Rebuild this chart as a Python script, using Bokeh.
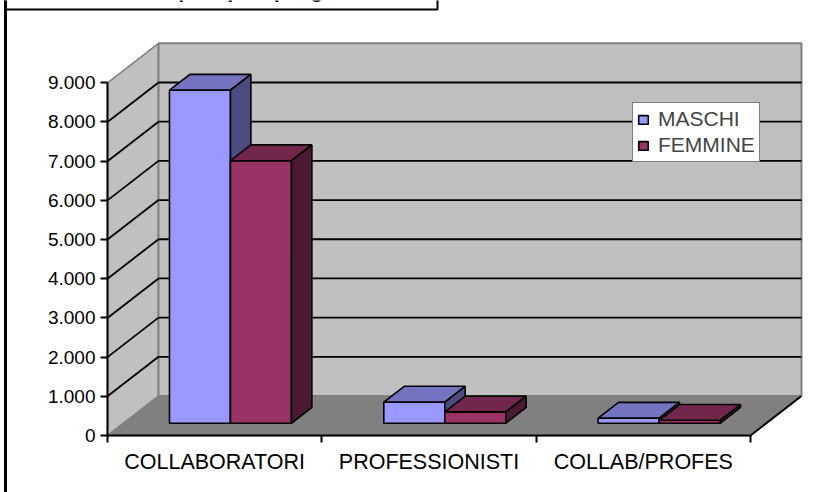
from bokeh.plotting import figure
from bokeh.models import Range1d, LinearAxis, FixedTicker, Legend, LegendItem
from bokeh.core.properties import value
from bokeh.embed import file_html
from bokeh.resources import INLINE

# ---------------- data ----------------
CATEGORIES = ["COLLABORATORI", "PROFESSIONISTI", "COLLAB/PROFES"]
SERIES = ["MASCHI", "FEMMINE"]
MASCHI = [8500, 540, 130]
FEMMINE = [6700, 290, 75]
Y_TICKS = [0, 1000, 2000, 3000, 4000, 5000, 6000, 7000, 8000, 9000]
Y_TICK_LABELS = ["0", "1.000", "2.000", "3.000", "4.000", "5.000",
                 "6.000", "7.000", "8.000", "9.000"]
TITLE = "Collaboratori per tipo e per genere"

# ---------------- style ----------------
W, H = 813, 492
FONT = "Liberation Sans"
WALL = "#C0C0C0"
FLOOR = "#808080"
EDGE = "#808080"
FACE = {"MASCHI": ("#9999FF", "#7373BF", "#4C4C80"),
        "FEMMINE": ("#993366", "#73264C", "#4C1933")}

# pixel geometry of the projection
PX_X0 = 107.0          # pixel of category-axis origin
PX_PER_CAT = 214.33    # pixels per category
PX_Y0 = 435.0          # pixel of value 0
PX_PER_UNIT = 352.7 / 9000.0

N = len(CATEGORIES)
YMAX = Y_TICKS[-1]
DX = 51.0 / PX_PER_CAT        # depth offset in category units
DY = 39.5 / PX_PER_UNIT       # depth offset in value units
Z0 = 0.31                     # depth fraction of bar front face
ZD = 0.40                     # depth fraction of bar thickness
BW = 0.2846                   # bar width (category units)
GAP = (1 - 2 * BW) / 2


def xd(px):
    return (px - PX_X0) / PX_PER_CAT


def yd(py):
    return (PX_Y0 - py) / PX_PER_UNIT


p = figure(width=W, height=H, min_border=0,
           x_range=Range1d(xd(0), xd(W)), y_range=Range1d(yd(H), yd(0)),
           x_axis_type=None, y_axis_type=None,
           toolbar_location=None, output_backend="svg",
           outline_line_color=None, background_fill_color="white",
           border_fill_color="white")
p.styles = {"position": "absolute", "left": "0px", "top": "0px"}

# ---------------- walls & floor ----------------
p.patch([0, DX, DX, 0], [0, DY, YMAX + DY, YMAX],
        fill_color=WALL, line_color=EDGE, line_width=1.5)
p.quad(left=[DX], right=[N + DX], bottom=[DY], top=[YMAX + DY],
       fill_color=WALL, line_color=EDGE, line_width=2)
p.patch([0, N, N + DX, DX], [0, 0, DY, DY],
        fill_color=FLOOR, line_color=EDGE, line_width=1.5)

grid_vals = Y_TICKS[1:-1]
p.segment(x0=[DX] * len(grid_vals), x1=[N + DX] * len(grid_vals),
          y0=[v + DY for v in grid_vals], y1=[v + DY for v in grid_vals],
          line_color="black", line_width=1.8)
p.segment(x0=[0] * len(grid_vals), x1=[DX] * len(grid_vals),
          y0=grid_vals, y1=[v + DY for v in grid_vals],
          line_color="black", line_width=1.8)
p.segment(x0=[N], y0=[0], x1=[N + DX], y1=[DY], line_color="black", line_width=2)

# ---------------- bars ----------------
front_renderers = []
for s, (name, vals) in enumerate(zip(SERIES, [MASCHI, FEMMINE])):
    c_front, c_top, c_side = FACE[name]
    base = Z0 * DY
    L = [i + GAP + s * BW + Z0 * DX for i in range(N)]
    R = [l + BW for l in L]
    T = [base + v for v in vals]
    ddx, ddy = ZD * DX, ZD * DY
    r = p.quad(left=L, right=R, bottom=[base] * N, top=T,
               fill_color=c_front, line_color="black", line_width=1.6)
    front_renderers.append(r)
    p.patches(xs=[[l, rr, rr + ddx, l + ddx] for l, rr in zip(L, R)],
              ys=[[t, t, t + ddy, t + ddy] for t in T],
              fill_color=c_top, line_color="black", line_width=1.6)
    p.patches(xs=[[rr, rr + ddx, rr + ddx, rr] for rr in R],
              ys=[[base, base + ddy, t + ddy, t] for t in T],
              fill_color=c_side, line_color="black", line_width=1.6)

# ---------------- axes ----------------
yaxis = LinearAxis(fixed_location=0, bounds=(0, YMAX),
                   ticker=FixedTicker(ticks=Y_TICKS),
                   major_label_overrides={t: l for t, l in zip(Y_TICKS, Y_TICK_LABELS)},
                   major_tick_out=7, major_tick_in=0,
                   minor_tick_out=0, minor_tick_in=0,
                   axis_line_width=2, major_tick_line_width=2,
                   major_label_text_font=FONT, major_label_text_font_size="19px",
                   major_label_text_color="black", major_label_standoff=5)
p.add_layout(yaxis, "left")

xticks = LinearAxis(fixed_location=0, bounds=(0, N),
                    ticker=FixedTicker(ticks=list(range(N + 1))),
                    major_label_overrides={i: "" for i in range(N + 1)},
                    major_tick_out=7, major_tick_in=0,
                    minor_tick_out=0, minor_tick_in=0,
                    axis_line_width=2, major_tick_line_width=2)
p.add_layout(xticks, "below")

xlabels = LinearAxis(fixed_location=0,
                     ticker=FixedTicker(ticks=[i + 0.5 for i in range(N)]),
                     major_label_overrides={i + 0.5: c for i, c in enumerate(CATEGORIES)},
                     major_tick_out=0, major_tick_in=0,
                     minor_tick_out=0, minor_tick_in=0,
                     axis_line_color=None,
                     major_label_text_font=FONT, major_label_text_font_size="21.5px",
                     major_label_text_color="black", major_label_standoff=14)
p.add_layout(xlabels, "below")

# ---------------- legend ----------------
legend = Legend(items=[LegendItem(label=n, renderers=[r]) for n, r in zip(SERIES, front_renderers)],
                location=(632, H - 162), margin=0, padding=4, spacing=2,
                glyph_width=12, glyph_height=11, label_standoff=9,
                label_text_font=FONT, label_text_font_size="21px",
                border_line_color="black", border_line_width=1.5,
                background_fill_color="white", background_fill_alpha=1)
p.add_layout(legend)

# ---------------- frame decorations (cut title box, left border) ----------------
p.quad(left=[xd(4.5)], right=[xd(437)], bottom=[yd(9)], top=[yd(-30)],
       fill_color="white", line_color="black", line_width=2)
p.text(x=[xd(48)], y=[yd(-10)], text=[TITLE], text_font=value(FONT),
       text_font_style="bold", text_font_size="20px",
       text_baseline="alphabetic", text_align="left", text_color="black")
p.segment(x0=[xd(5)], x1=[xd(5)], y0=[yd(-10)], y1=[yd(H + 10)],
          line_color="black", line_width=3)

open("out.html", "w").write(file_html(p, INLINE))
